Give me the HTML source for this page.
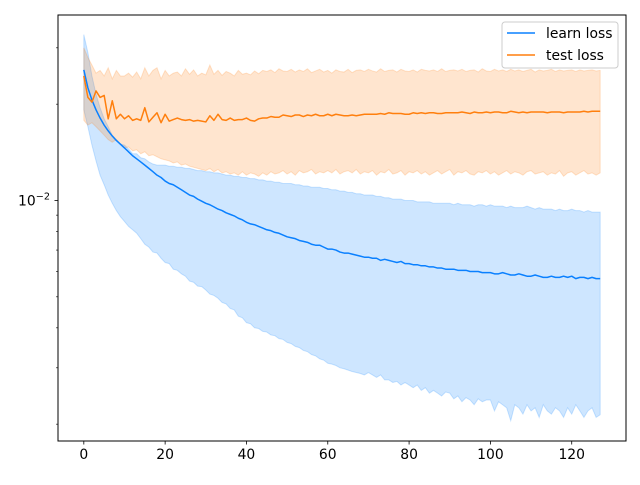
<!DOCTYPE html>
<html><head><meta charset="utf-8"><style>
body{margin:0;background:#fff}
text{font-family:"DejaVu Sans","Liberation Sans",sans-serif;font-size:13.9px;fill:#000}
</style></head><body>
<svg id="chart" width="640" height="480" xmlns="http://www.w3.org/2000/svg">
<rect width="640" height="480" fill="#fff"/>
<g id="bands"></g><g id="lines"></g>
<rect x="58" y="15" width="568" height="426" fill="none" stroke="#000" stroke-width="1"/>
<g id="xaxis"></g>
<g id="yaxis"></g>
<g>
<rect x="502" y="22" width="116" height="46" rx="3" fill="#fff" fill-opacity="0.8" stroke="#ccc"/>
<line x1="507" y1="33" x2="535" y2="33" stroke="#0a80ff" stroke-width="1.5"/>
<text x="546" y="38">learn loss</text>
<line x1="507" y1="55" x2="535" y2="55" stroke="#ff7f0e" stroke-width="1.5"/>
<text x="546" y="60">test loss</text>
</g>
</svg>
<script>
// values in units of 1e-3
const learnMean=[25.6,22.5,20.6,19.2,18.1,17.2,16.5,15.9,15.4,15.0,14.6,14.2,13.8,13.5,13.2,12.9,12.6,12.3,12.0,11.8,11.5,11.3,11.2,11.0,10.8,10.6,10.4,10.3,10.1,9.95,9.8,9.7,9.55,9.4,9.3,9.15,9.05,8.95,8.8,8.7,8.55,8.45,8.4,8.3,8.2,8.1,8.05,7.95,7.9,7.8,7.7,7.65,7.6,7.5,7.45,7.4,7.3,7.25,7.25,7.15,7.05,7.05,7.0,6.9,6.85,6.85,6.8,6.75,6.7,6.65,6.65,6.6,6.6,6.5,6.55,6.5,6.45,6.4,6.45,6.35,6.35,6.3,6.3,6.25,6.25,6.2,6.2,6.15,6.15,6.1,6.1,6.1,6.05,6.05,6.05,6.0,6.0,6.0,5.95,5.95,5.95,5.9,5.9,5.95,5.9,5.85,5.85,5.9,5.85,5.8,5.8,5.85,5.8,5.75,5.75,5.8,5.75,5.75,5.8,5.75,5.8,5.7,5.75,5.75,5.7,5.75,5.7,5.7];
const learnHigh=[33.0,29.0,24.5,21.5,19.5,18.0,17.0,16.0,15.5,15.0,14.9,14.5,14.0,14.0,13.6,13.5,13.2,13.0,12.9,12.9,12.9,12.8,12.8,12.7,12.7,12.6,12.6,12.5,12.4,12.4,12.3,12.3,12.2,12.2,12.1,12.0,12.0,11.9,11.9,11.8,11.8,11.7,11.7,11.6,11.6,11.5,11.5,11.4,11.4,11.3,11.3,11.3,11.2,11.2,11.1,11.1,11.0,11.0,11.0,10.9,10.9,10.8,10.8,10.7,10.7,10.6,10.6,10.5,10.5,10.4,10.4,10.4,10.3,10.3,10.2,10.2,10.1,10.1,10.1,10.0,10.0,10.0,9.9,9.9,9.9,9.9,9.8,9.8,9.8,9.8,9.8,9.7,9.8,9.7,9.7,9.7,9.6,9.7,9.7,9.6,9.7,9.6,9.6,9.6,9.5,9.6,9.5,9.5,9.5,9.6,9.5,9.4,9.5,9.4,9.4,9.4,9.3,9.4,9.3,9.3,9.4,9.3,9.3,9.2,9.3,9.2,9.2,9.2];
const learnLow=[19.2,17.0,14.9,13.3,12.0,11.2,10.4,9.8,9.3,8.9,8.6,8.3,8.1,7.9,7.6,7.3,7.15,6.9,6.85,6.6,6.4,6.35,6.1,6.05,5.9,5.8,5.6,5.55,5.4,5.38,5.25,5.1,5.05,4.95,4.8,4.75,4.6,4.55,4.35,4.3,4.15,4.12,4.0,3.98,3.9,3.88,3.8,3.78,3.7,3.68,3.6,3.57,3.5,3.47,3.4,3.37,3.3,3.27,3.2,3.17,3.1,3.08,3.05,3.0,2.98,2.95,2.92,2.9,2.88,2.85,2.9,2.85,2.8,2.85,2.75,2.75,2.7,2.72,2.65,2.7,2.65,2.6,2.65,2.55,2.6,2.5,2.55,2.5,2.45,2.52,2.5,2.4,2.45,2.35,2.42,2.38,2.3,2.4,2.35,2.38,2.38,2.2,2.35,2.3,2.25,2.05,2.3,2.25,2.15,2.3,2.2,2.25,2.1,2.3,2.2,2.15,2.25,2.2,2.1,2.25,2.15,2.3,2.2,2.1,2.2,2.25,2.1,2.14];
const testMean=[24.5,21.0,20.3,22.0,21.0,21.3,18.0,20.5,18.0,18.6,18.0,18.4,17.8,18.0,17.8,19.5,17.6,18.2,18.8,17.5,18.6,17.7,17.9,18.1,17.9,17.8,17.9,17.7,17.8,17.7,17.6,18.4,17.8,18.6,17.9,17.8,18.1,17.8,17.9,17.9,18.1,17.8,17.7,18.0,18.1,18.1,18.3,18.2,18.2,18.5,18.4,18.3,18.5,18.5,18.3,18.5,18.4,18.6,18.4,18.4,18.6,18.4,18.6,18.5,18.4,18.4,18.5,18.4,18.5,18.6,18.6,18.6,18.6,18.7,18.6,18.8,18.7,18.7,18.7,18.6,18.6,18.8,18.7,18.8,18.7,18.8,18.8,18.7,18.7,18.8,18.8,18.8,18.8,18.9,18.8,18.7,18.9,18.8,18.8,18.9,18.8,18.9,18.9,18.8,18.8,19.0,18.9,18.8,18.9,18.8,18.9,18.9,18.9,18.9,18.8,18.9,18.9,18.9,18.8,18.9,18.9,18.9,18.9,19.0,18.9,19.0,19.0,19.0];
const testHigh=[30.0,28.0,26.5,25.0,25.5,24.5,26.0,24.0,25.5,24.5,24.5,25.0,24.3,25.2,24.0,26.0,24.5,25.5,26.0,24.0,25.5,24.5,25.0,25.2,24.5,25.8,24.8,25.6,24.5,25.0,24.7,26.5,24.8,25.5,24.6,25.3,25.0,24.5,25.5,24.8,25.0,24.7,25.4,24.9,25.5,25.3,25.6,25.1,25.8,25.4,25.3,25.7,25.2,25.6,25.3,25.8,25.1,25.4,25.7,25.2,25.5,25.0,25.6,25.3,25.2,25.7,25.1,25.5,25.6,25.3,25.7,25.4,25.2,25.8,25.3,25.5,25.6,25.2,25.7,25.4,25.3,25.6,25.2,25.7,25.5,25.4,25.6,25.3,25.8,25.3,25.5,25.6,25.4,25.7,25.3,25.5,25.6,25.2,25.8,25.4,25.3,25.7,25.4,25.6,25.3,25.7,25.4,25.6,25.3,25.5,25.7,25.2,25.6,25.4,25.5,25.7,25.3,25.6,25.4,25.5,25.6,25.3,25.6,25.4,25.5,25.6,25.4,25.5];
const testLow=[17.8,17.2,17.5,17.0,16.5,16.0,15.5,15.2,15.5,15.0,14.6,14.7,14.3,14.4,14.0,14.2,13.8,13.9,13.7,13.5,13.4,13.3,13.1,13.2,12.9,13.0,12.8,12.7,12.6,12.5,12.4,12.6,12.3,12.5,12.2,12.3,12.1,12.2,12.0,12.3,12.0,12.2,12.1,11.9,12.2,12.0,12.3,12.1,12.2,12.4,12.1,12.3,12.0,12.4,12.2,12.3,12.5,12.1,12.3,12.2,12.4,12.2,12.5,12.1,12.3,12.4,12.2,12.5,12.1,12.3,12.2,12.4,12.0,12.3,12.2,12.5,12.1,12.2,12.4,12.0,12.3,12.2,12.4,12.1,12.3,12.0,12.2,12.4,12.1,12.3,12.5,12.0,12.3,12.2,12.4,12.1,12.0,12.3,12.2,12.4,12.1,12.3,12.0,12.2,12.4,12.1,12.3,12.2,12.0,12.3,12.4,12.1,12.2,12.3,12.0,12.2,12.1,12.4,11.9,12.2,12.3,12.0,12.2,12.4,12.1,12.2,12.0,12.2];
const xTicks=[0,20,40,60,80,100,120];
const yMinor=[2,3,4,5,6,7,8,9,20,30];

const NS="http://www.w3.org/2000/svg";
const X0=58,X1=626,Y0=15,Y1=441,xMin=-6.35,xMax=133.35;
const LTOP=-1.4203,LBOT=-2.7516;
const xs=i=>X0+(i-xMin)/(xMax-xMin)*(X1-X0);
const ys=v=>{const l=Math.log10(v*1e-3);return Y0+(LTOP-l)/(LTOP-LBOT)*(Y1-Y0);};
function mk(tag,attrs,parent){const e=document.createElementNS(NS,tag);for(const k in attrs)e.setAttribute(k,attrs[k]);parent.appendChild(e);return e;}
const bands=document.getElementById('bands'),lines=document.getElementById('lines');
function band(hi,lo,color,name){
  let d='M'+hi.map((v,i)=>xs(i).toFixed(2)+','+ys(v).toFixed(2)).join('L');
  for(let i=lo.length-1;i>=0;i--)d+='L'+xs(i).toFixed(2)+','+ys(lo[i]).toFixed(2);
  const p=mk('path',{d:d+'Z',fill:color,'fill-opacity':0.2,stroke:color,'stroke-opacity':0.2,'stroke-width':1},bands);
  
  
}
function line(arr,color,name){
  const d='M'+arr.map((v,i)=>xs(i).toFixed(2)+','+ys(v).toFixed(2)).join('L');
  const p=mk('path',{d:d,fill:'none',stroke:color,'stroke-width':1.5,'stroke-linejoin':'round'},lines);
  
  
}
band(learnHigh,learnLow,'#0a80ff','learn-loss-band');
band(testHigh,testLow,'#ff7f0e','test-loss-band');
line(learnMean,'#0a80ff','learn-loss-line');
line(testMean,'#ff7f0e','test-loss-line');
const xa=document.getElementById('xaxis');
xTicks.forEach(t=>{
  const x=xs(t);
  const tk=mk('line',{x1:x,x2:x,y1:Y1,y2:Y1+3.5,stroke:'#000','stroke-width':0.8},xa);
  
  
  const tx=mk('text',{x:x,y:Y1+18,'text-anchor':'middle'},xa);
  tx.textContent=t;
  
  
});
const ya=document.getElementById('yaxis');
const yMaj=ys(10);
const mj=mk('line',{x1:X0-3.5,x2:X0,y1:yMaj,y2:yMaj,stroke:'#000','stroke-width':0.8},ya);


yMinor.forEach(v=>{
  const y=ys(v);
  const tk=mk('line',{x1:X0-2,x2:X0,y1:y,y2:y,stroke:'#000','stroke-width':0.6},ya);
  
  
});
const yl=mk('text',{x:X0-8,y:yMaj+5,'text-anchor':'end'},ya);


yl.innerHTML='10<tspan dy="-6" font-size="9.7px">−2</tspan>';
</script>
</body></html>
